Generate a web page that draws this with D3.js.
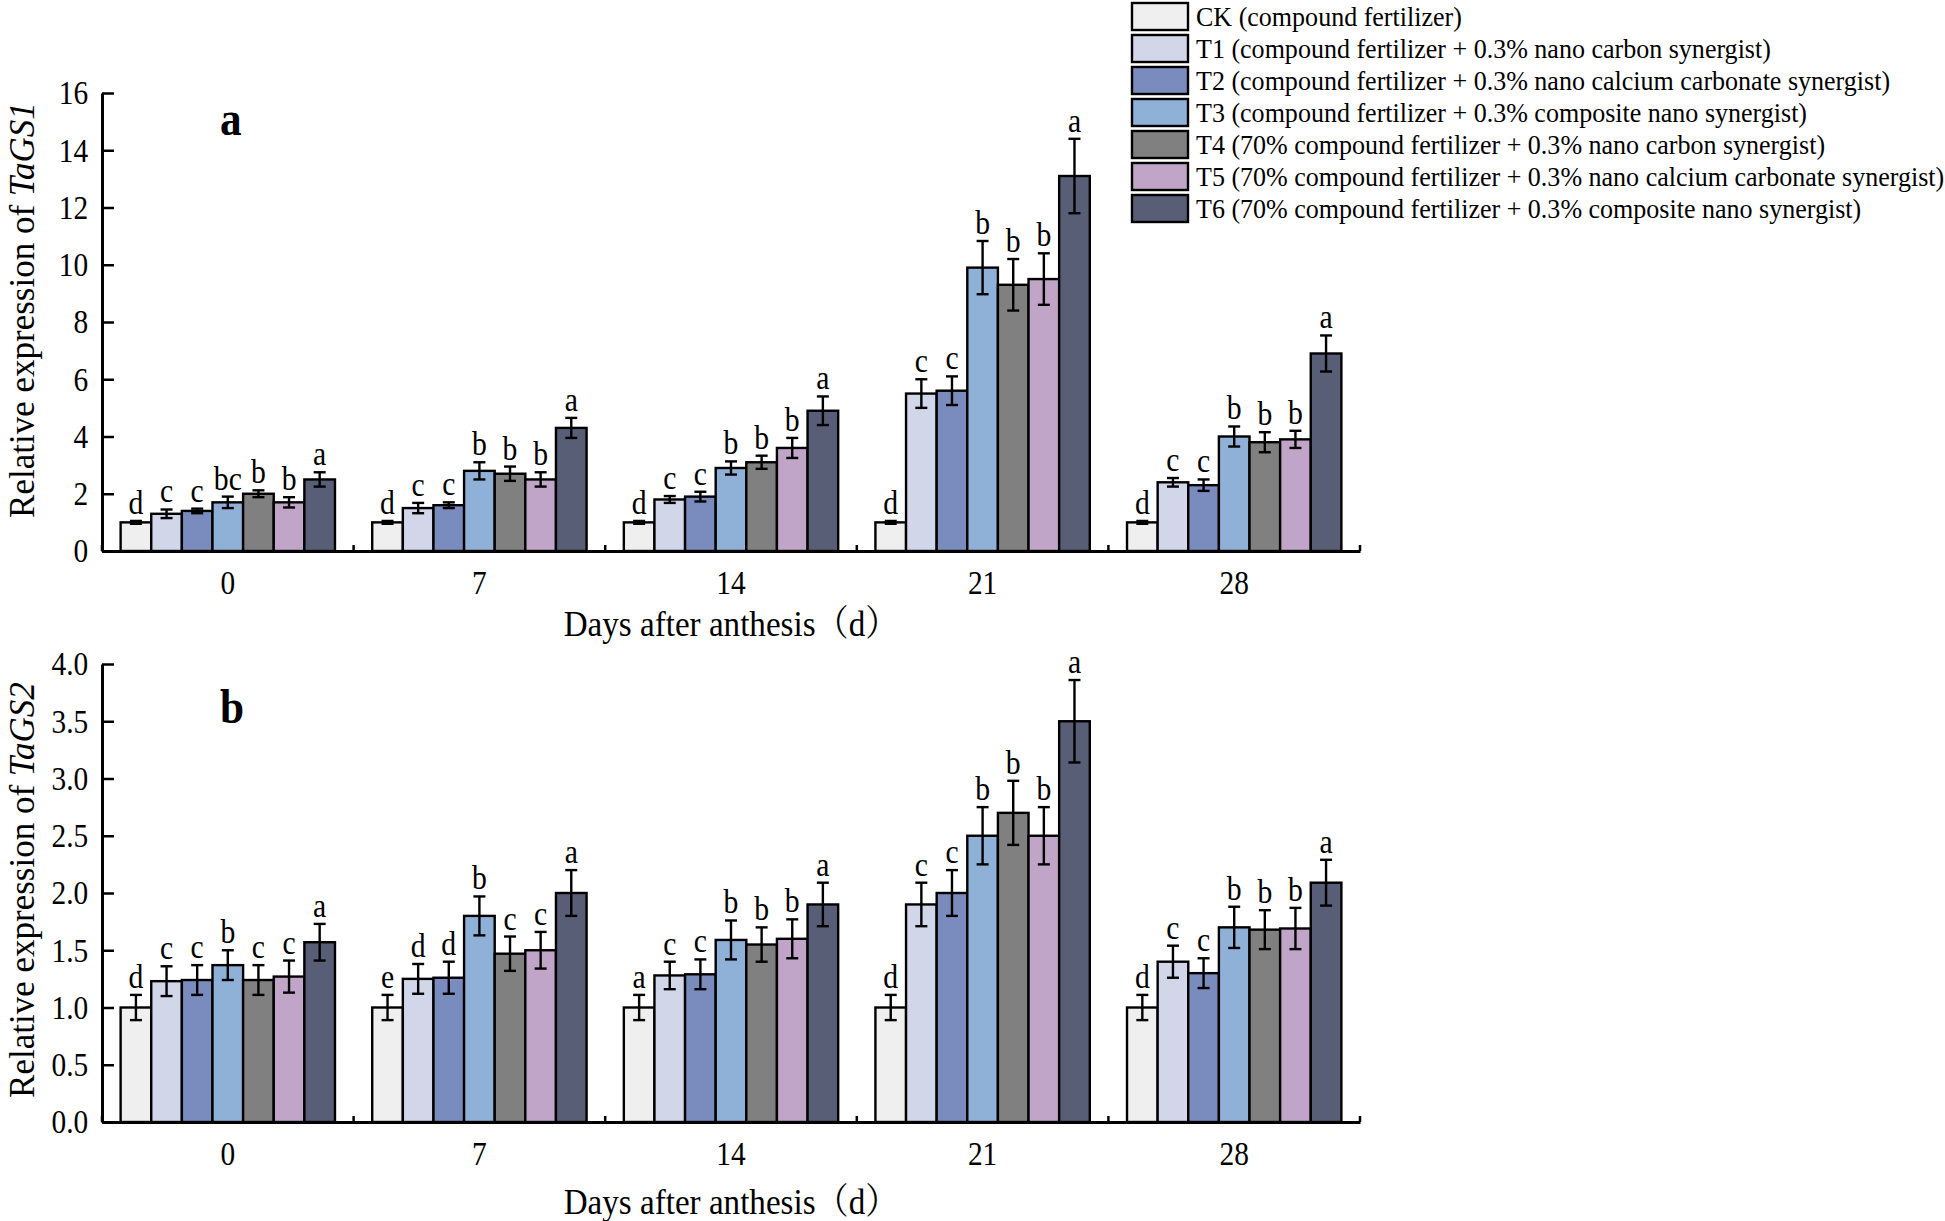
<!DOCTYPE html>
<html>
<head>
<meta charset="utf-8">
<script src="https://cdn.jsdelivr.net/npm/d3@7"></script>
<style>
html,body{margin:0;padding:0;background:#fff;}
svg text{font-family:"Liberation Serif","Times New Roman","Noto Serif CJK SC","Noto Sans CJK SC",serif;fill:#000;}
</style>
</head>
<body>
<svg id="chart" width="1945" height="1221"></svg>
<script>
// ---------------- DATA ----------------
const days = ["0", "7", "14", "21", "28"];
const treatments = ["CK", "T1", "T2", "T3", "T4", "T5", "T6"];
const legendLabels = [
  "CK (compound fertilizer)",
  "T1 (compound fertilizer + 0.3% nano carbon synergist)",
  "T2 (compound fertilizer + 0.3% nano calcium carbonate synergist)",
  "T3 (compound fertilizer + 0.3% composite nano synergist)",
  "T4 (70% compound fertilizer + 0.3% nano carbon synergist)",
  "T5 (70% compound fertilizer + 0.3% nano calcium carbonate synergist)",
  "T6 (70% compound fertilizer + 0.3% composite nano synergist)"
];
const colors = ["#efefef", "#d1d7e8", "#7a8bbd", "#8fb1d7", "#808080", "#c1a5c8", "#585e76"];

// TaGS1 (panel a): rows = treatments, columns = days
const gs1Mean = [
  [1.0, 1.0, 1.0, 1.0, 1.0],
  [1.3, 1.5, 1.8, 5.5, 2.4],
  [1.4, 1.6, 1.9, 5.6, 2.3],
  [1.7, 2.8, 2.9, 9.9, 4.0],
  [2.0, 2.7, 3.1, 9.3, 3.8],
  [1.7, 2.5, 3.6, 9.5, 3.9],
  [2.5, 4.3, 4.9, 13.1, 6.9]
];
const gs1Err = [
  [0.05, 0.05, 0.05, 0.05, 0.05],
  [0.15, 0.18, 0.12, 0.5, 0.15],
  [0.08, 0.1, 0.17, 0.5, 0.2],
  [0.2, 0.3, 0.23, 0.93, 0.35],
  [0.12, 0.25, 0.23, 0.9, 0.35],
  [0.18, 0.25, 0.35, 0.9, 0.3],
  [0.25, 0.35, 0.5, 1.3, 0.63]
];
const gs1Sig = [
  ["d", "d", "d", "d", "d"],
  ["c", "c", "c", "c", "c"],
  ["c", "c", "c", "c", "c"],
  ["bc", "b", "b", "b", "b"],
  ["b", "b", "b", "b", "b"],
  ["b", "b", "b", "b", "b"],
  ["a", "a", "a", "a", "a"]
];
const gs1Ticks = [0, 2, 4, 6, 8, 10, 12, 14, 16];

// TaGS2 (panel b)
const gs2Mean = [
  [1.0, 1.0, 1.0, 1.0, 1.0],
  [1.23, 1.25, 1.28, 1.9, 1.4],
  [1.24, 1.26, 1.29, 2.0, 1.3],
  [1.37, 1.8, 1.59, 2.5, 1.7],
  [1.24, 1.47, 1.55, 2.7, 1.68],
  [1.27, 1.5, 1.6, 2.5, 1.69],
  [1.57, 2.0, 1.9, 3.5, 2.09]
];
const gs2Err = [
  [0.11, 0.11, 0.11, 0.11, 0.11],
  [0.13, 0.13, 0.12, 0.19, 0.14],
  [0.13, 0.14, 0.13, 0.2, 0.13],
  [0.13, 0.17, 0.17, 0.25, 0.18],
  [0.13, 0.15, 0.15, 0.28, 0.17],
  [0.14, 0.16, 0.17, 0.25, 0.18],
  [0.16, 0.2, 0.19, 0.36, 0.2]
];
const gs2Sig = [
  ["d", "e", "a", "d", "d"],
  ["c", "d", "c", "c", "c"],
  ["c", "d", "c", "c", "c"],
  ["b", "b", "b", "b", "b"],
  ["c", "c", "b", "b", "b"],
  ["c", "c", "b", "b", "b"],
  ["a", "a", "a", "a", "a"]
];
const gs2Ticks = [0, 0.5, 1.0, 1.5, 2.0, 2.5, 3.0, 3.5, 4.0];

// ---------------- DRAW ----------------
const svg = d3.select("#chart");
const SX = 0.9; // horizontal squeeze of the original figure's lettering

function panel(opts) {
  const {top, bottom, left, right, maxY, ticks, fmt, mean, err, sig, gene, letter, xTitleY} = opts;
  const g = svg.append("g");
  const x = d3.scaleBand().domain(days).range([left, right]).paddingInner(0).paddingOuter(0);
  const bw = x.bandwidth();
  const inset = bw * 0.074;
  const xs = d3.scaleBand().domain(treatments).range([inset, bw - inset]).padding(0);
  const y = d3.scaleLinear().domain([0, maxY]).range([bottom, top]);

  const recs = [];
  treatments.forEach((t, i) => days.forEach((d, j) => {
    recs.push({t, i, d, v: mean[i][j], e: err[i][j], s: sig[i][j]});
  }));

  // bars
  g.selectAll("rect.bar").data(recs).enter().append("rect")
    .attr("class", "bar")
    .attr("x", r => x(r.d) + xs(r.t))
    .attr("y", r => y(r.v))
    .attr("width", xs.bandwidth())
    .attr("height", r => y(0) - y(r.v))
    .attr("fill", r => colors[r.i])
    .attr("stroke", "#000")
    .attr("stroke-width", 2.4);

  // error bars
  const cap = 6;
  const eb = g.selectAll("g.err").data(recs).enter().append("g").attr("class", "err")
    .attr("stroke", "#000").attr("stroke-width", 2.4);
  const cx = r => x(r.d) + xs(r.t) + xs.bandwidth() / 2;
  eb.append("line").attr("x1", cx).attr("x2", cx)
    .attr("y1", r => y(r.v + r.e)).attr("y2", r => y(r.v - r.e));
  eb.append("line").attr("x1", r => cx(r) - cap).attr("x2", r => cx(r) + cap)
    .attr("y1", r => y(r.v + r.e)).attr("y2", r => y(r.v + r.e));
  eb.append("line").attr("x1", r => cx(r) - cap).attr("x2", r => cx(r) + cap)
    .attr("y1", r => y(r.v - r.e)).attr("y2", r => y(r.v - r.e));

  // significance letters
  g.selectAll("text.sig").data(recs).enter().append("text")
    .attr("class", "sig")
    .attr("transform", r => `translate(${cx(r)},${y(r.v + r.e) - 7}) scale(${SX},1)`)
    .attr("text-anchor", "middle")
    .style("font-size", "33px")
    .text(r => r.s);

  // y axis
  const ya = d3.axisLeft(y).tickValues(ticks).tickFormat(fmt)
    .tickSizeInner(-12).tickSizeOuter(0).tickPadding(16);
  const yg = g.append("g").attr("transform", `translate(${left},0)`).call(ya);
  yg.select(".domain").attr("stroke", "#000").attr("stroke-width", 3);
  yg.selectAll(".tick line").attr("stroke", "#000").attr("stroke-width", 2.5);
  yg.selectAll(".tick text").style("font-size", "34px")
    .attr("transform", `scale(${SX * 0.96},1)`)
    .style("font-family", '"Liberation Serif","Times New Roman",serif');

  // x axis: labels at group centres, short ticks at group boundaries
  const xa = d3.axisBottom(x).tickSize(0).tickPadding(19);
  const xg = g.append("g").attr("transform", `translate(0,${bottom})`).call(xa);
  xg.select(".domain").attr("stroke", "#000").attr("stroke-width", 3);
  xg.selectAll(".tick text").style("font-size", "34px")
    .attr("transform", `scale(${SX * 0.96},1)`)
    .style("font-family", '"Liberation Serif","Times New Roman",serif');
  const bounds = days.map(d => x(d) + bw).concat([x(days[0])]);
  g.selectAll("line.bt").data(bounds).enter().append("line")
    .attr("class", "bt")
    .attr("x1", b => b).attr("x2", b => b)
    .attr("y1", bottom).attr("y2", bottom - 6)
    .attr("stroke", "#000").attr("stroke-width", 2.5);

  // x title
  g.append("text")
    .attr("transform", `translate(${(left + right) / 2},${xTitleY}) scale(${SX + 0.02},1)`)
    .attr("text-anchor", "middle").style("font-size", "36px")
    .text("Days after anthesis（d）");

  // y title
  const yt = g.append("text")
    .attr("transform", `translate(${opts.yTitleX},${opts.yTitleC}) rotate(-90)`)
    .attr("text-anchor", "middle").style("font-size", "35px");
  yt.append("tspan").text("Relative expression of ");
  yt.append("tspan").style("font-style", "italic").text(gene);

  // panel letter
  g.append("text").attr("transform", `translate(${left + 118},${opts.letterY}) scale(${SX},1)`)
    .style("font-size", "48px").style("font-weight", "bold").text(letter);
}

panel({top: 93, bottom: 551, left: 102, right: 1360, maxY: 16, ticks: gs1Ticks,
  fmt: d3.format("d"), mean: gs1Mean, err: gs1Err, sig: gs1Sig, gene: "TaGS1",
  letter: "a", letterY: 135, xTitleY: 636, yTitleX: 34, yTitleC: 310});
panel({top: 664, bottom: 1122, left: 102, right: 1360, maxY: 4, ticks: gs2Ticks,
  fmt: d3.format(".1f"), mean: gs2Mean, err: gs2Err, sig: gs2Sig, gene: "TaGS2",
  letter: "b", letterY: 723, xTitleY: 1214, yTitleX: 34, yTitleC: 890});

// legend
const lg = svg.append("g");
const rowY = d3.scaleBand().domain(treatments).range([1, 225]).padding(0);
treatments.forEach((t, i) => {
  const yy = rowY(t);
  lg.append("rect").attr("x", 1132).attr("y", yy + 2).attr("width", 56).attr("height", 27)
    .attr("fill", colors[i]).attr("stroke", "#000").attr("stroke-width", 2.4);
  lg.append("text").attr("transform", `translate(1196,${yy + 25}) scale(0.93,1)`)
    .style("font-size", "28px").text(legendLabels[i]);
});
</script>
</body>
</html>
